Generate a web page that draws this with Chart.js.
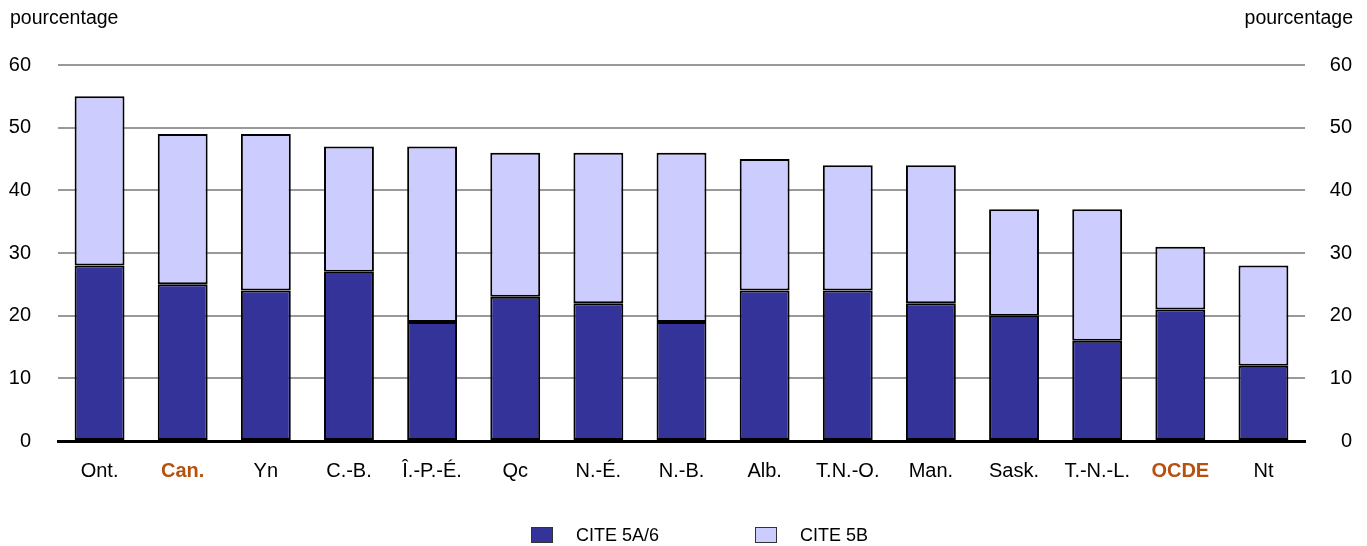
<!DOCTYPE html>
<html>
<head>
<meta charset="utf-8">
<script src="https://cdn.jsdelivr.net/npm/chart.js@4"></script>
<style>
  html, body { margin: 0; padding: 0; background: #fff; }
  #wrap { width: 1367px; height: 546px; }
</style>
</head>
<body>
<div id="wrap"><canvas id="citeChart" width="1367" height="546"></canvas></div>
<script>
"use strict";

var categories = ['Ont.', 'Can.', 'Yn', 'C.-B.', 'Î.-P.-É.', 'Qc', 'N.-É.', 'N.-B.', 'Alb.', 'T.N.-O.', 'Man.', 'Sask.', 'T.-N.-L.', 'OCDE', 'Nt'];
var cite5A6 = [28, 25, 24, 27, 19, 23, 22, 19, 24, 24, 22, 20, 16, 21, 12];
var cite5B = [27, 24, 25, 20, 28, 23, 24, 27, 21, 20, 22, 17, 21, 10, 16];
var yTicks = [0, 10, 20, 30, 40, 50, 60];
var highlighted = ['Can.', 'OCDE'];

var FONT = "'Liberation Sans Narrow', 'Arial Narrow', 'Liberation Sans', sans-serif";

// unit labels at the top corners and the legend row at the bottom
var extras = {
    id: 'extras',
    afterDraw: function (chart) {
        var c = chart.ctx;
        c.save();
        c.font = '19.5px ' + FONT;
        c.fillStyle = '#000';
        c.textBaseline = 'middle';
        c.textAlign = 'left';
        c.fillText('pourcentage', 10, 19);
        c.textAlign = 'right';
        c.fillText('pourcentage', 1353, 19);

        var legendX = [531, 755];
        var legendY = 535;
        c.font = '18px ' + FONT;
        c.textAlign = 'left';
        chart.data.datasets.forEach(function (ds, i) {
            var x = legendX[i];
            c.fillStyle = ds.backgroundColor;
            c.fillRect(x, legendY - 8, 22, 16);
            c.strokeStyle = '#333';
            c.lineWidth = 1;
            c.strokeRect(x + 0.5, legendY - 7.5, 21, 15);
            c.fillStyle = '#000';
            c.fillText(ds.label, x + 45, legendY + 1);
        });
        c.restore();
    }
};

var yAxisCommon = {
    min: 0,
    max: 60,
    afterBuildTicks: function (scale) {
        scale.ticks = yTicks.map(function (v) { return { value: v }; });
    },
    border: { display: false },
    ticks: {
        color: '#000',
        font: { family: FONT, size: 20 }
    }
};

var ctx = document.getElementById('citeChart').getContext('2d');
new Chart(ctx, {
    type: 'bar',
    data: {
        labels: categories,
        datasets: [{
            label: 'CITE 5A/6',
            data: cite5A6,
            backgroundColor: '#333399',
            borderColor: '#000',
            borderWidth: 2,
            borderSkipped: false
        }, {
            label: 'CITE 5B',
            data: cite5B,
            backgroundColor: '#ccccff',
            borderColor: '#000',
            borderWidth: 2,
            borderSkipped: false
        }]
    },
    options: {
        responsive: false,
        animation: false,
        layout: { padding: { top: 65, bottom: 45, left: 0, right: 15 } },
        datasets: {
            bar: { barPercentage: 0.6, categoryPercentage: 1 }
        },
        scales: {
            x: {
                stacked: true,
                grid: { display: false, drawTicks: false, tickLength: 0 },
                border: { display: true, color: '#000', width: 3 },
                ticks: {
                    padding: 18,
                    color: function (c) {
                        return highlighted.indexOf(categories[c.index]) >= 0 ? '#b5520f' : '#000';
                    },
                    font: function (c) {
                        var bold = highlighted.indexOf(categories[c.index]) >= 0;
                        return { family: FONT, size: 20, weight: bold ? 'bold' : 'normal' };
                    }
                }
            },
            y: Object.assign({}, yAxisCommon, {
                position: 'left',
                stacked: true,
                afterFit: function (scale) { scale.width = 58; },
                grid: {
                    drawTicks: false,
                    tickLength: 0,
                    lineWidth: 2,
                    color: function (c) { return c.tick && c.tick.value === 0 ? 'rgba(0,0,0,0)' : '#999'; }
                },
                ticks: Object.assign({}, yAxisCommon.ticks, { padding: 27 })
            }),
            y2: Object.assign({}, yAxisCommon, {
                position: 'right',
                afterFit: function (scale) { scale.width = 47; },
                grid: { display: false, drawTicks: false, tickLength: 0 },
                ticks: Object.assign({}, yAxisCommon.ticks, { padding: 10, crossAlign: 'far' })
            })
        },
        plugins: {
            legend: { display: false },
            tooltip: { enabled: false }
        }
    },
    plugins: [extras]
});
</script>
</body>
</html>
